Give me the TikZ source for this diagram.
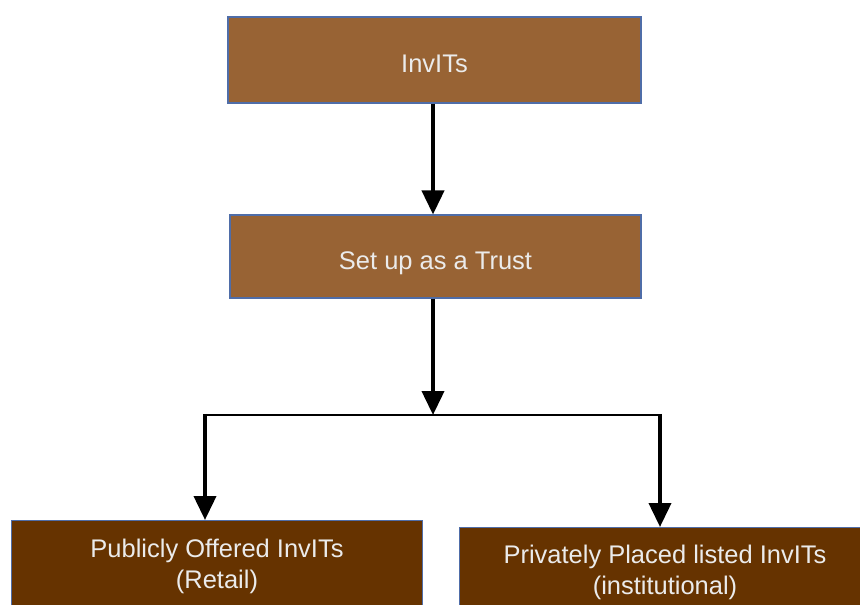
\documentclass[tikz,border=0pt]{standalone}
\usepackage{fontspec}
\setmainfont{Liberation Sans}
\usepackage{xcolor}
\usepackage{tikz}
\usetikzlibrary{arrows.meta,positioning}
\definecolor{woodbrown}{RGB}{152,99,52}
\definecolor{darkbrown}{RGB}{102,51,0}
\definecolor{edgeblue}{RGB}{79,109,168}

\begin{document}
\begin{tikzpicture}[
    box/.style={draw=edgeblue, line width=0.6pt, minimum width=8.22cm, minimum height=1.68cm,
                text=white!92!black, font=\fontsize{14.5}{18}\selectfont, align=center},
    topbox/.style={box, fill=woodbrown, text height=0.62cm, text depth=0.1cm},
    flow/.style={-{Triangle[length=0.48cm, width=0.44cm]}, line width=2.2pt, black},
    bar/.style={line width=1.2pt, black}
]
    \useasboundingbox (0,0) rectangle (17.2,-12.1);
    \clip (0,0) rectangle (17.2,-12.1);

    \node[topbox, minimum width=8.26cm, minimum height=1.72cm] (invits) at (8.69,-1.2) {InvITs};
    \node[topbox, minimum height=1.66cm] (trust) at (8.71,-5.13) {Set up as a Trust};

    \node[box, fill=darkbrown, minimum height=1.84cm, anchor=north] (public) at (4.34,-10.4) {Publicly Offered InvITs\\(Retail)};
    \node[box, fill=darkbrown, minimum height=1.8cm, anchor=north] (private) at (13.3,-10.54) {Privately Placed listed InvITs\\(institutional)};

    \coordinate (split) at (8.66,-8.3);
    \coordinate (lbar) at (4.1,-8.3);
    \coordinate (rbar) at (13.2,-8.3);

    \draw[flow] (invits.south -| split) -- (trust.north -| split);
    \draw[flow] (trust.south -| split) -- (split);
    \draw[bar] (lbar) -- (rbar);
    \draw[flow] ([yshift=0.6pt]lbar) -- (lbar |- public.north);
    \draw[flow] ([yshift=0.6pt]rbar) -- (rbar |- private.north);
\end{tikzpicture}
\end{document}
